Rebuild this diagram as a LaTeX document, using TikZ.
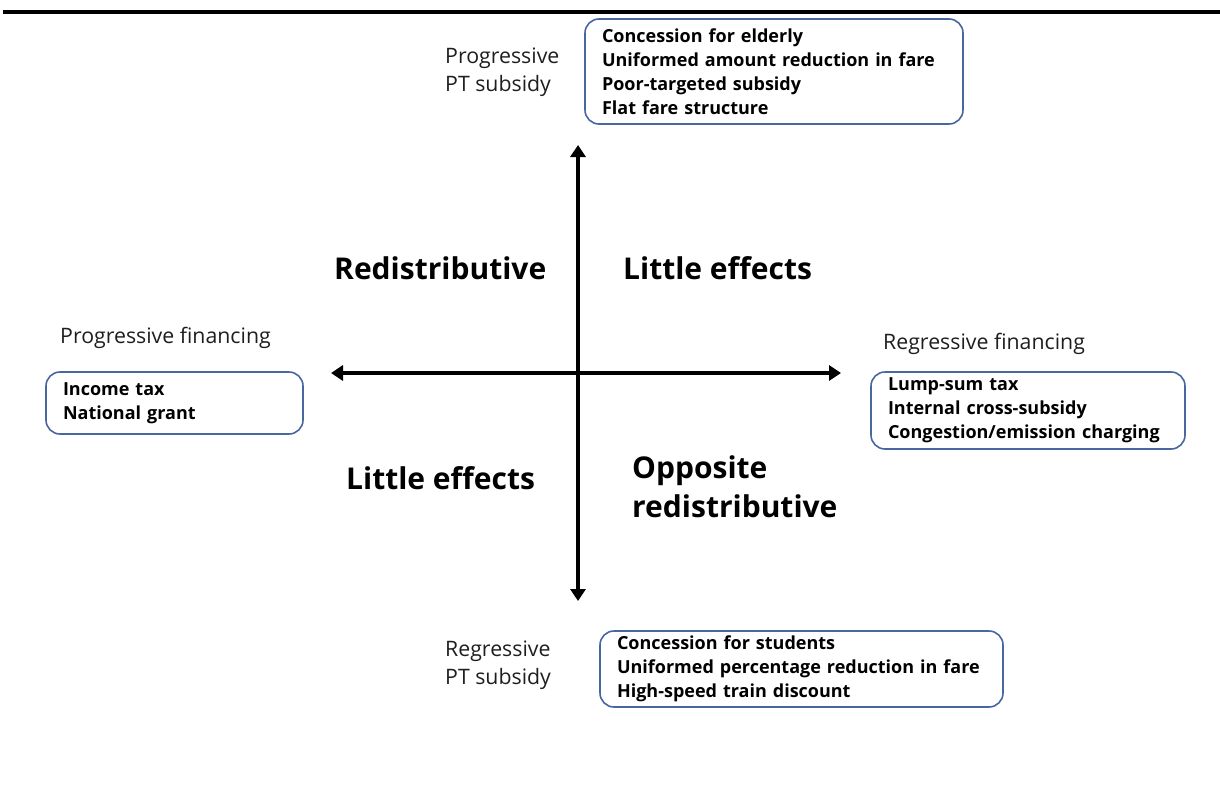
\documentclass[tikz,border=0pt]{standalone}
\usepackage{fontspec}
\setmainfont{Open Sans}
\usetikzlibrary{arrows.meta}
\definecolor{boxblue}{RGB}{72,102,160}
\definecolor{lbl}{RGB}{30,30,30}
\tikzset{
  box/.style={draw=boxblue, line width=1.6pt, rounded corners=14pt, inner xsep=17pt, inner ysep=0pt, align=left, font=\fontsize{18}{24}\selectfont\bfseries, text=black},
  lab/.style={font=\fontsize{21.3}{28}\selectfont, text=lbl, align=left, inner sep=0pt},
  quad/.style={font=\fontsize{30}{39}\selectfont\bfseries, text=black, align=left, inner sep=0pt},
  axis/.style={line width=3.4pt, {Triangle[width=15pt,length=12pt]}-{Triangle[width=15pt,length=12pt]}},
  rule/.style={line width=3.4pt}
}
\begin{document}
\begin{tikzpicture}[x=1pt,y=-1pt]
\useasboundingbox (0,0) rectangle (1220,784);
% top rule
\coordinate (rl) at (3,12);
\coordinate (rr) at (1220,12);
\draw[rule] (rl) -- (rr);
% axes
\coordinate (vtop) at (578,145);
\coordinate (vbot) at (578,601);
\coordinate (hl) at (331,373);
\coordinate (hr) at (841,373);
\draw[axis] (vbot) -- (vtop);
\draw[axis] (hl) -- (hr);
% boxes
\node[box, minimum width=378pt, minimum height=105pt, text width=344pt] (top) at (774,71.5)
  {Concession for elderly\\Uniformed amount reduction in fare\\Poor-targeted subsidy\\Flat fare structure};
\node[box, minimum width=257pt, minimum height=62pt, text width=223pt] (left) at (174.5,403)
  {Income tax\\National grant};
\node[box, minimum width=314pt, minimum height=77pt, text width=280pt] (right) at (1028,410.5)
  {Lump-sum tax\\Internal cross-subsidy\\Congestion/emission charging};
\node[box, minimum width=403pt, minimum height=76pt, text width=369pt] (bottom) at (801.5,669)
  {Concession for students\\Uniformed percentage reduction in fare\\High-speed train discount};
% labels
\node[lab, anchor=west] (ltop) at (445,72) {Progressive\\PT subsidy};
\node[lab, anchor=west] (lleft) at (60,338) {Progressive financing};
\node[lab, anchor=west] (lright) at (883,344) {Regressive financing};
\node[lab, anchor=west] (lbot) at (445,665) {Regressive\\PT subsidy};
% quadrants
\node[quad, anchor=west] (q1) at (334,268) {Redistributive};
\node[quad, anchor=west] (q2) at (623,268) {Little effects};
\node[quad, anchor=west] (q3) at (346,478) {Little effects};
\node[quad, anchor=west] (q4) at (632,487) {Opposite\\redistributive};
\end{tikzpicture}
\end{document}
